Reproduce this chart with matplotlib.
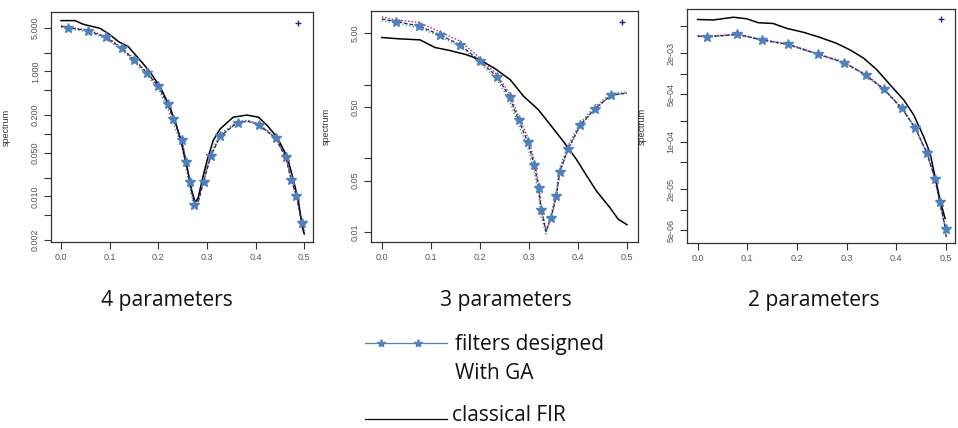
import matplotlib
matplotlib.use("Agg")
import matplotlib.pyplot as plt
from matplotlib.lines import Line2D

# ---- data ----
freq_ticks = [0.0, 0.1, 0.2, 0.3, 0.4, 0.5]
freq_labels = ["0.0", "0.1", "0.2", "0.3", "0.4", "0.5"]

# 4 parameters
p1_fir_x = [0, .029, .045, .08, .1, .118, .138, .163, .183, .204, .224, .238, .248, .259, .269,
            .276, .282, .29, .30, .313, .327, .354, .382, .406, .424, .444, .465, .478, .488, .496, .5]
p1_fir_y = [6.5, 6.5, 5.7, 4.9, 3.9, 3.0, 2.5, 1.5, .98, .56, .27, .13, .07, .029, .012,
            .008, .0095, .018, .037, .079, .12, .185, .20, .185, .136, .089, .043, .018, .0085, .0032, .0025]
p1_ga_x = [0, .015, .056, .093, .125, .151, .176, .2, .219, .231, .248, .257, .265, .274, .279,
           .293, .308, .327, .363, .385, .406, .441, .462, .473, .484, .495, .5]
p1_ga_y = [5.3, 5.0, 4.5, 3.5, 2.33, 1.51, .95, .58, .30, .17, .079, .036, .017, .0074, .0066,
           .017, .044, .091, .152, .158, .14, .085, .042, .0185, .01, .0038, .0028]
p1_ga_red = [5.4, 5.1, 4.6, 3.6, 2.4, 1.55, .98, .6, .31, .175, .082, .038, .018, .0078, .007,
             .018, .046, .094, .156, .162, .144, .087, .043, .019, .0103, .004, .003]
p1_ga_green = [5.1, 4.8, 4.3, 3.3, 2.2, 1.42, .88, .52, .26, .145, .066, .029, .0135, .0068, .0075,
               .02, .05, .1, .16, .165, .146, .09, .045, .02, .0105, .0037, .0026]
p1_stars = [1, 2, 3, 4, 5, 6, 7, 8, 9, 10, 11, 12, 13, 15, 16, 17, 18, 20, 21, 22, 23, 24, 25]
p1_plus = (0.488, 6.0)
p1_yticks = [0.002, 0.005, 0.01, 0.02, 0.05, 0.1, 0.2, 0.5, 1, 2, 5]
p1_ylabels = ["0.002", "", "0.010", "", "0.050", "", "0.200", "", "1.000", "", "5.000"]

# 3 parameters
p2_fir_x = [0, .034, .078, .109, .139, .173, .2, .231, .262, .289, .319, .343, .37, .397, .418,
            .438, .465, .482, .5]
p2_fir_y = [4.37, 4.2, 4.06, 3.19, 2.91, 2.55, 2.18, 1.65, 1.17, .70, .46, .29, .171, .097, .058,
            .036, .0216, .015, .0126]
p2_ga_x = [0, .029, .075, .119, .16, .2, .236, .261, .279, .298, .311, .32, .325, .335, .345,
           .356, .363, .38, .404, .434, .468, .5]
p2_ga_y = [7.8, 7.2, 6.3, 4.75, 3.47, 2.11, 1.26, .675, .33, .166, .081, .040, .020, .0102, .0155,
           .031, .066, .136, .28, .47, .72, .77]
p2_ga_red = [8.3, 7.6, 7.0, 5.2, 3.9, 2.3, 1.35, .75, .37, .19, .095, .046, .023, .0105, .015,
             .03, .064, .13, .27, .46, .72, .77]
p2_ga_green = [7.4, 6.9, 6.0, 4.5, 3.3, 2.0, 1.15, .6, .28, .14, .066, .032, .016, .0095, .017,
               .036, .075, .15, .30, .50, .76, .80]
p2_stars = [1, 2, 3, 4, 5, 6, 7, 8, 9, 10, 11, 12, 14, 15, 16, 17, 18, 19, 20]
p2_plus = (0.49, 7.2)
p2_yticks = [0.01, 0.05, 0.1, 0.5, 1, 5]
p2_ylabels = ["0.01", "0.05", "", "0.50", "", "5.00"]

# 2 parameters
p3_fir_x = [0, .032, .072, .099, .122, .152, .179, .213, .246, .28, .307, .334, .361, .388, .415,
            .435, .455, .468, .478, .488, .498]
p3_fir_y = [6.3e-3, 6.2e-3, 6.8e-3, 6.45e-3, 5.65e-3, 5.5e-3, 4.67e-3, 4.08e-3, 3.44e-3, 2.8e-3,
            2.24e-3, 1.7e-3, 1.14e-3, 6.8e-4, 4.1e-4, 2.47e-4, 1.18e-4, 6.7e-5, 3.0e-5, 1.37e-5, 7.4e-6]
p3_ga_x = [0, .018, .08, .13, .182, .243, .295, .338, .375, .411, .438, .461, .478, .487, .499, .5]
p3_ga_y = [3.6e-3, 3.5e-3, 3.8e-3, 3.14e-3, 2.7e-3, 1.93e-3, 1.46e-3, 9.6e-4, 5.9e-4, 3.1e-4,
           1.58e-4, 6.9e-5, 2.8e-5, 1.3e-5, 5.2e-6, 4.0e-6]
p3_ga_red = [3.65e-3, 3.55e-3, 3.85e-3, 3.2e-3, 2.75e-3, 1.96e-3, 1.48e-3, 9.8e-4, 6.0e-4, 3.15e-4,
             1.6e-4, 7.0e-5, 2.9e-5, 1.35e-5, 5.4e-6, 4.1e-6]
p3_ga_green = [3.55e-3, 3.45e-3, 3.75e-3, 3.1e-3, 2.68e-3, 1.9e-3, 1.44e-3, 9.5e-4, 5.8e-4, 3.05e-4,
               1.55e-4, 6.8e-5, 2.75e-5, 1.28e-5, 5.0e-6, 3.9e-6]
p3_stars = list(range(1, 15))
p3_plus = (0.49, 6.3e-3)
p3_yticks = [5e-6, 1e-5, 2e-5, 5e-5, 1e-4, 2e-4, 5e-4, 1e-3, 2e-3, 5e-3]
p3_ylabels = ["5e-06", "", "2e-05", "", "1e-04", "", "5e-04", "", "2e-03", ""]

titles = ["4 parameters", "3 parameters", "2 parameters"]

# ---- layout (pixels of the 958x428 picture) ----
W, H = 958, 428
panels = [
    dict(box=(51, 12, 313, 242), xlim=(-0.0206, 0.518), ylim=(0.00186, 8.93), title_x=167,
         fx=p1_fir_x, fy=p1_fir_y, gx=p1_ga_x, gy=p1_ga_y, gr=p1_ga_red, gg=p1_ga_green,
         stars=p1_stars, plus=p1_plus, yt=p1_yticks, yl=p1_ylabels),
    dict(box=(371, 10.7, 637.7, 242.3), xlim=(-0.022, 0.522), ylim=(0.00726, 10.1), title_x=506,
         fx=p2_fir_x, fy=p2_fir_y, gx=p2_ga_x, gy=p2_ga_y, gr=p2_ga_red, gg=p2_ga_green,
         stars=p2_stars, plus=p2_plus, yt=p2_yticks, yl=p2_ylabels),
    dict(box=(686.7, 9.3, 955, 242.7), xlim=(-0.022, 0.518), ylim=(3.25e-6, 8.9e-3), title_x=814,
         fx=p3_fir_x, fy=p3_fir_y, gx=p3_ga_x, gy=p3_ga_y, gr=p3_ga_red, gg=p3_ga_green,
         stars=p3_stars, plus=p3_plus, yt=p3_yticks, yl=p3_ylabels),
]

star_col = "#4f81bd"
fig = plt.figure(figsize=(W / 100, H / 100), dpi=100)

for p, title in zip(panels, titles):
    l, t, r, b = p["box"]
    ax = fig.add_axes([l / W, 1 - b / H, (r - l) / W, (b - t) / H])
    ax.set_yscale("log")
    ax.plot(p["fx"], p["fy"], color="black", lw=1.1, zorder=3)
    ax.plot(p["gx"], p["gr"], color="#c83a5a", lw=1.0, ls=(0, (1.2, 1.2)), zorder=2)
    ax.plot(p["gx"], p["gg"], color="#3aa860", lw=1.0, ls=(0, (1, 1.5)), zorder=2)
    ax.plot(p["gx"], p["gy"], color="#24248c", lw=0.9, ls=(0, (3, 1.5)), zorder=4,
            marker="*", markevery=p["stars"], markersize=7.5,
            markerfacecolor=star_col, markeredgecolor=star_col)
    ax.plot([p["plus"][0]], [p["plus"][1]], marker="+", color="#24248c", ms=4, mew=1, ls="none")
    ax.set_xlim(*p["xlim"])
    ax.set_ylim(*p["ylim"])
    ax.minorticks_off()
    ax.set_xticks(freq_ticks)
    ax.set_xticklabels(freq_labels)
    ax.set_yticks(p["yt"])
    ax.set_yticklabels(p["yl"])
    for lab in ax.get_yticklabels():
        lab.set_rotation(90)
        lab.set_va("center")
    ax.tick_params(length=5, width=0.8, color="#333333", labelcolor="#555555",
                   labelsize=6.5, pad=3)
    for lab in ax.get_xticklabels() + ax.get_yticklabels():
        lab.set_family("Liberation Sans")
    for s in ax.spines.values():
        s.set_color("#333333")
        s.set_linewidth(0.9)
    ax.set_ylabel("spectrum", fontsize=6.5, family="Liberation Sans", color="#333333")
    ax.yaxis.set_label_coords(-40 / (r - l), 0.5)
    fig.text(p["title_x"] / W, 1 - 306 / H, title, ha="center", va="baseline",
             fontsize=15.2, family="Open Sans", color="#111111")

# legend below the panels
fig.add_artist(Line2D([365 / W, 380.7 / W, 418.3 / W, 447 / W], [1 - 342.7 / H] * 4,
                      color=star_col, lw=0.9, marker="*", markevery=[1, 2], ms=6,
                      markerfacecolor=star_col, markeredgecolor=star_col,
                      transform=fig.transFigure))
fig.add_artist(Line2D([365 / W, 447 / W], [1 - 419 / H] * 2, color="black", lw=0.9,
                      transform=fig.transFigure))
fig.text(455 / W, 1 - 350 / H, "filters designed", ha="left", va="baseline",
         fontsize=15, family="Open Sans", color="#111111")
fig.text(455 / W, 1 - 379 / H, "With GA", ha="left", va="baseline",
         fontsize=15, family="Open Sans", color="#111111")
fig.text(452 / W, 1 - 421 / H, "classical FIR", ha="left", va="baseline",
         fontsize=15, family="Open Sans", color="#111111")

fig.savefig("out.png", dpi=100)
